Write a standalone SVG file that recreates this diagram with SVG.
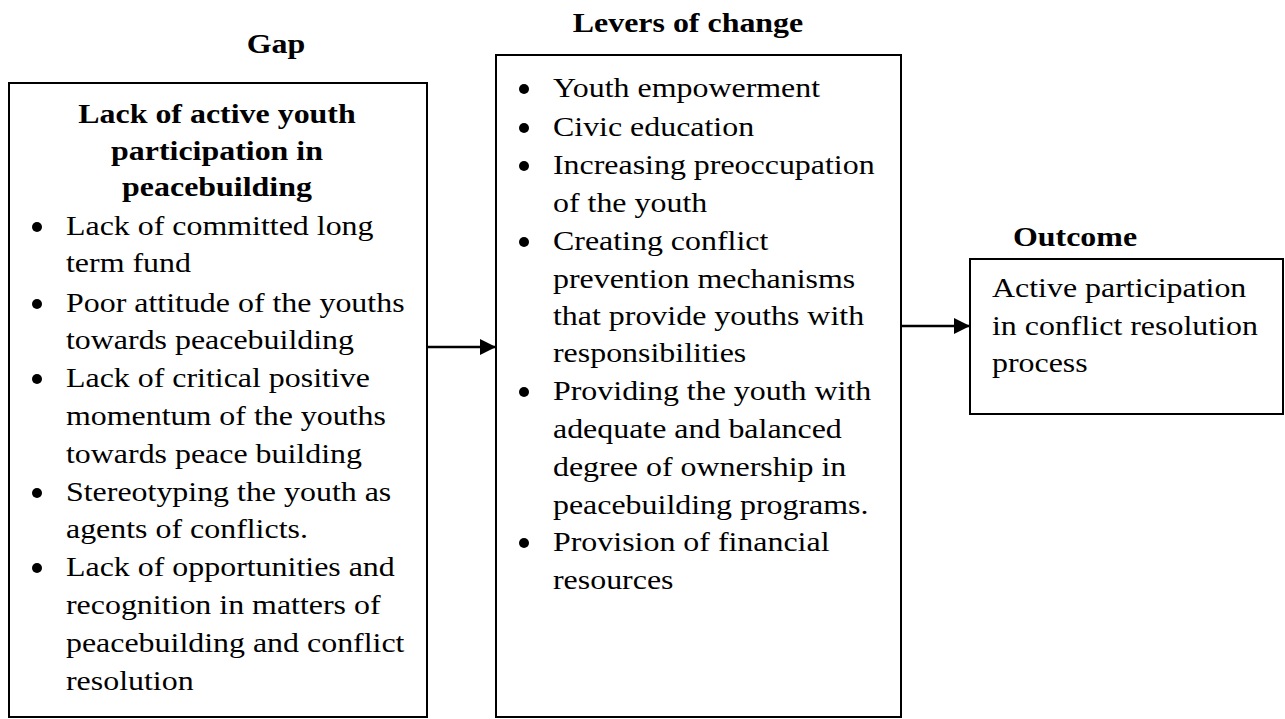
<svg xmlns="http://www.w3.org/2000/svg" width="1285" height="719" viewBox="0 0 1285 719">
<style>
text{font-family:"Liberation Serif","Times New Roman",serif;font-size:28px;fill:#000}
.b{font-weight:bold}
.box{fill:#fff;stroke:#000;stroke-width:2}
.conn{stroke:#000;stroke-width:2.5;fill:none}
</style>
<defs>
<marker id="ah" markerWidth="16" markerHeight="16" refX="16" refY="8" orient="auto" markerUnits="userSpaceOnUse">
<path d="M0,0 L16,8 L0,16 Z" fill="#000"/>
</marker>
</defs>
<rect width="1285" height="719" fill="#fff"/>
<g id="gap">
<text class="b" x="276" y="53" text-anchor="middle" transform="matrix(1.14 0 0 1 -38.64 0)">Gap</text>
<rect class="box" x="9" y="83" width="418" height="634"/>
<g transform="matrix(1.14 0 0 1 -30.38 0)">
<text class="b" x="217" y="123" text-anchor="middle">Lack of active youth</text>
<text class="b" x="217" y="160" text-anchor="middle">participation in</text>
<text class="b" x="217" y="196" text-anchor="middle">peacebuilding</text>
</g>
<g>
<circle cx="37" cy="227" r="5"/>
<circle cx="37" cy="304" r="5"/>
<circle cx="37" cy="379" r="5"/>
<circle cx="37" cy="493" r="5"/>
<circle cx="37" cy="568" r="5"/>
</g>
<g transform="matrix(1.14 0 0 1 -9.24 0)">
<text x="66" y="235">Lack of committed long</text>
<text x="66" y="272">term fund</text>
<text x="66" y="312">Poor attitude of the youths</text>
<text x="66" y="349">towards peacebuilding</text>
<text x="66" y="387">Lack of critical positive</text>
<text x="66" y="425">momentum of the youths</text>
<text x="66" y="463">towards peace building</text>
<text x="66" y="501">Stereotyping the youth as</text>
<text x="66" y="538">agents of conflicts.</text>
<text x="66" y="576">Lack of opportunities and</text>
<text x="66" y="614">recognition in matters of</text>
<text x="66" y="652">peacebuilding and conflict</text>
<text x="66" y="690">resolution</text>
</g>
</g>
<g id="levers">
<text class="b" x="688" y="32" text-anchor="middle" transform="matrix(1.14 0 0 1 -96.32 0)">Levers of change</text>
<rect class="box" x="496" y="55" width="405" height="662"/>
<g>
<circle cx="524" cy="89" r="5"/>
<circle cx="524" cy="128" r="5"/>
<circle cx="524" cy="166" r="5"/>
<circle cx="524" cy="242" r="5"/>
<circle cx="524" cy="392" r="5"/>
<circle cx="524" cy="543" r="5"/>
</g>
<g transform="matrix(1.14 0 0 1 -77.42 0)">
<text x="553" y="97">Youth empowerment</text>
<text x="553" y="136">Civic education</text>
<text x="553" y="174">Increasing preoccupation</text>
<text x="553" y="212">of the youth</text>
<text x="553" y="250">Creating conflict</text>
<text x="553" y="288">prevention mechanisms</text>
<text x="553" y="325">that provide youths with</text>
<text x="553" y="362">responsibilities</text>
<text x="553" y="400">Providing the youth with</text>
<text x="553" y="438">adequate and balanced</text>
<text x="553" y="476">degree of ownership in</text>
<text x="553" y="514">peacebuilding programs.</text>
<text x="553" y="551">Provision of financial</text>
<text x="553" y="589">resources</text>
</g>
</g>
<g id="outcome">
<text class="b" x="1013" y="246" transform="matrix(1.14 0 0 1 -141.82 0)">Outcome</text>
<rect class="box" x="970" y="259" width="313" height="155"/>
<g transform="matrix(1.14 0 0 1 -138.88 0)">
<text x="992" y="297">Active participation</text>
<text x="992" y="335">in conflict resolution</text>
<text x="992" y="372">process</text>
</g>
</g>
<g id="connectors">
<line class="conn" x1="427" y1="347" x2="496" y2="347" marker-end="url(#ah)"/>
<line class="conn" x1="901" y1="326" x2="970" y2="326" marker-end="url(#ah)"/>
</g>
</svg>
